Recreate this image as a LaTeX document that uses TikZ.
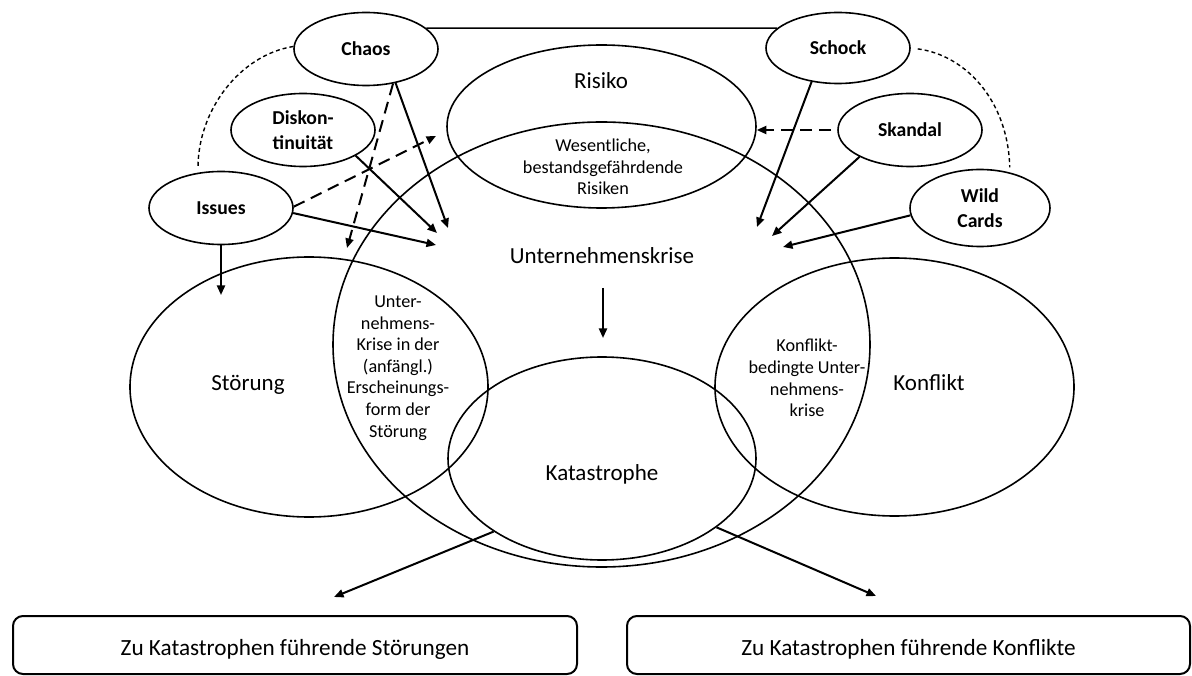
\documentclass[tikz,border=0pt]{standalone}
\usepackage{fontspec}
\setmainfont{Carlito}
\usetikzlibrary{arrows.meta,shapes.geometric}
\begin{document}
\begin{tikzpicture}[x=1pt,y=-1pt,
  ell/.style={draw,ellipse,line width=1.6pt,inner sep=0pt},
  tag/.style={ell,minimum width=144pt,minimum height=73pt,align=center,
    font=\fontsize{19.7}{25}\selectfont\bfseries},
  lbl/.style={inner sep=0pt,text height=0.66em,text depth=0pt,
    font=\fontsize{23}{27}\selectfont},
  sml/.style={inner sep=0pt,align=center,font=\fontsize{18.2}{21.6}\selectfont},
  boxx/.style={draw,rounded corners=10pt,line width=2pt,inner sep=0pt,
    minimum width=564pt,minimum height=58pt,text height=21pt,text depth=0pt,
    font=\fontsize{23.2}{27}\selectfont},
  arr/.style={line width=2pt,-{Triangle[length=9.5pt,width=8pt]}},
  darr/.style={arr,dash pattern=on 12pt off 7pt},
  link/.style={line width=1.4pt},
  dlink/.style={line width=1.4pt,dash pattern=on 4pt off 3pt}]

\fill[white] (0,0) rectangle (1192,676);
\useasboundingbox (0,0) rectangle (1192,676);

% large overlapping areas
\node[ell,minimum width=537pt,minimum height=445pt] (krisecirc) at (601.5,344.5) {};
\node[ell,minimum width=309pt,minimum height=163pt] (risiko) at (601.5,126.5) {};
\node[ell,minimum width=358pt,minimum height=260pt] (stoer) at (309,387) {};
\node[ell,minimum width=359pt,minimum height=258pt] (konf) at (894.5,387) {};
\node[ell,minimum width=308pt,minimum height=203pt] (kat) at (602,458.5) {};

% area labels
\node[lbl] (risikotxt) at (601,85) {Risiko};
\node[sml] (wes) at (603,167) {Wesentliche,\\bestandsgefährdende\\Risiken};
\node[lbl] (krise) at (602,260) {Unternehmenskrise};
\node[lbl] (stoertxt) at (248,387) {Störung};
\node[lbl] (konftxt) at (929,387) {Konflikt};
\node[lbl] (kattxt) at (602,477) {Katastrophe};
\node[sml] (stoerkrise) at (398,368) {Unter-\\nehmens-\\Krise in der\\(anfängl.)\\Erscheinungs-\\form der\\Störung};
\node[sml] (konfkrise) at (807,378) {Konflikt-\\bedingte Unter-\\nehmens-\\krise};

% triggering phenomena
\node[tag] (chaos) at (366,49) {Chaos};
\node[tag] (disk) at (303,130) {Diskon-\\tinuität};
\node[tag] (issues) at (221,208) {Issues};
\node[tag,minimum height=71pt] (schock) at (838,48) {Schock};
\node[tag] (skandal) at (910,130) {Skandal};
\node[tag,minimum width=140pt,minimum height=77pt] (wild) at (980,208) {Wild\\Cards};

% outcome boxes
\node[boxx] (boxl) at (295,645) {Zu Katastrophen führende Störungen};
\node[boxx,minimum width=563pt] (boxr) at (908.5,645) {Zu Katastrophen führende Konflikte};

% arrow end points
\coordinate (tchaos) at (448,228);
\coordinate (tchaosd) at (347,248);
\coordinate (tdisk) at (437,233);
\coordinate (tiss) at (436,245);
\coordinate (tissd) at (436,136);
\coordinate (tstoer) at (221,295);
\coordinate (tschock) at (757,227);
\coordinate (tskandal) at (772,236);
\coordinate (twild) at (783,247);
\coordinate (down1) at (603,288);
\coordinate (down2) at (603,338);
\coordinate (tkatl) at (334,597);
\coordinate (tkatr) at (876,596);

% links between the phenomena
\draw[link] (chaos.19) -- (schock.162);
\draw[dlink,shorten >=5pt] (chaos.178) .. controls (240,55) and (198,110) .. (issues.123);
\draw[dlink,shorten <=7pt,shorten >=5pt] (schock.0) .. controls (965,55) and (1008,100) .. (wild.50);

% arrows on the left
\draw[arr] (chaos.-49) -- (tchaos);
\draw[darr] (chaos.-52) -- (tchaosd);
\draw[arr] (disk.-26) -- (tdisk);
\draw[arr] (issues.-4) -- (tiss);
\draw[darr] (issues.1) -- (tissd);
\draw[arr] (issues.south) -- (tstoer);

% arrows on the right
\draw[arr] (schock.232) -- (tschock);
\draw[arr] (skandal.208) -- (tskandal);
\draw[arr] (wild.186) -- (twild);
\draw[darr,shorten <=6pt] (skandal.west) -- (risiko.east |- skandal.west);

% crisis to catastrophe and beyond
\draw[arr] (down1) -- (down2);
\draw[arr] (kat.214) -- (tkatl);
\draw[arr] (kat.-31) -- (tkatr);
\end{tikzpicture}
\end{document}
